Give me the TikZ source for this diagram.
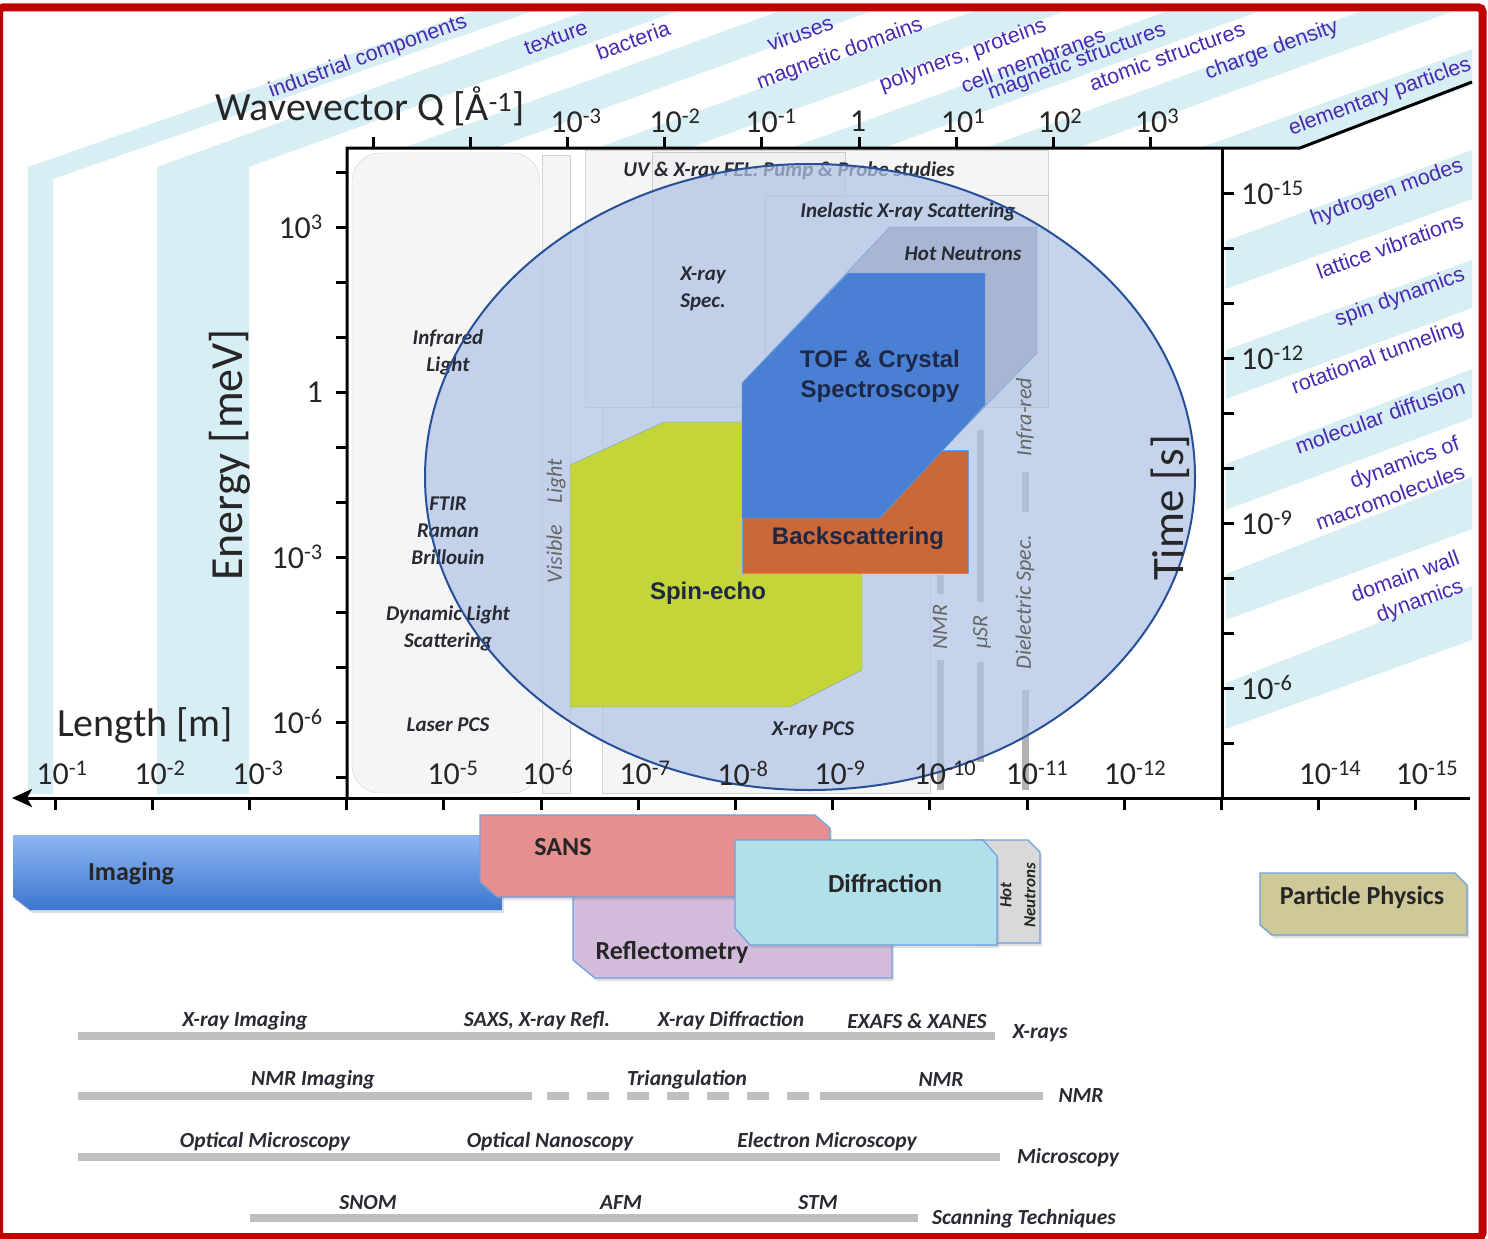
\documentclass[tikz,border=0pt]{standalone}
\usepackage{fontspec}
\setmainfont{Carlito}
\newfontfamily\arialf{Liberation Sans}
\usetikzlibrary{arrows.meta,shadows}
\definecolor{bandblue}{RGB}{214,238,244}
\definecolor{purp}{RGB}{74,42,178}
\definecolor{redb}{RGB}{192,0,0}
\definecolor{ellfill}{RGB}{176,196,230}
\definecolor{elldraw}{RGB}{40,80,150}
\definecolor{greenbox}{RGB}{196,213,58}
\definecolor{tofblue}{RGB}{74,128,212}
\definecolor{orangebox}{RGB}{203,104,56}
\definecolor{hotbox}{RGB}{168,182,212}
\definecolor{navytext}{RGB}{30,40,70}
\definecolor{sansfill}{RGB}{229,143,143}
\definecolor{reflfill}{RGB}{211,187,220}
\definecolor{difffill}{RGB}{178,224,234}
\definecolor{hotgray}{RGB}{217,217,217}
\definecolor{partfill}{RGB}{207,200,152}
\definecolor{barg}{RGB}{191,191,191}
\definecolor{imgtop}{RGB}{141,182,244}
\definecolor{imgbot}{RGB}{60,118,206}
\definecolor{boxedge}{RGB}{110,160,220}
\definecolor{labdark}{RGB}{40,42,52}
\newcommand{\tpow}[1]{10\textsuperscript{#1}}
\tikzset{
  axlab/.style={font=\fontsize{40}{44}\selectfont, text=black!85, inner sep=0},
  ticklab/.style={font=\fontsize{32}{34}\selectfont, text=black!85, inner sep=0},
  purlab/.style={font=\arialf\fontsize{21.5}{23}\selectfont, text=purp, rotate=20, inner sep=0, align=center},
  itlab/.style={font=\bfseries\itshape\fontsize{21}{27}\selectfont, text=labdark, align=center, inner sep=0},
  rowlab/.style={font=\bfseries\itshape\fontsize{21.5}{25}\selectfont, text=labdark, inner sep=0},
  thinit/.style={font=\itshape\fontsize{22}{26}\selectfont, text=black!60, inner sep=0},
  boldlab/.style={font=\arialf\bfseries\fontsize{24}{30}\selectfont, text=navytext, align=center, inner sep=0},
  boxlab/.style={font=\bfseries\fontsize{26}{28}\selectfont, text=black!85, inner sep=0, align=center},
  axisline/.style={line width=3, black},
  tickmark/.style={line width=3, black},
  graybox/.style={draw=gray!35, fill=gray!8},
  techbar/.style={barg, line width=8},
  pbox/.style={draw=boxedge, line width=1.2, drop shadow={shadow xshift=2pt, shadow yshift=-3pt, opacity=0.25}},
}
\begin{document}
\begin{tikzpicture}[x=1pt,y=-1pt]
\useasboundingbox (0,0) rectangle (1488,1239);
\fill[white] (0,0) rectangle (1488,1239);
% ---------- light blue bands ----------
\fill[bandblue] (28,794) -- (28,167) -- (471,12) -- (530,12) -- (53,179) -- (53,794) -- cycle;
\fill[bandblue] (157,794) -- (157,167) -- (583,12) -- (675,12) -- (249,167) -- (249,794) -- cycle;
\begin{scope}
  \clip (300,148) -- (1300,148) -- (1472,85) -- (1472,12) -- (300,12) -- cycle;
  \foreach \a/\b in {403/495, 597/689, 791/883, 985/1077, 1200/1300}
    \fill[bandblue] (\a,148) -- ({\a+374},12) -- ({\b+374},12) -- (\b,148) -- cycle;
\end{scope}
\foreach \la/\lb/\ra/\rb in {241/289/150/199, 350/399/260/308, 464/510/369/418, 574/620/477/529, 683/729/586/640}
  \fill[bandblue] (1226,\la) -- (1472,\ra) -- (1472,\rb) -- (1226,\lb) -- cycle;
% ---------- gray technique regions ----------
\draw[graybox, rounded corners=28] (352,153) rectangle (540,793);
\draw[graybox] (542,155) rectangle (570,793);
\draw[graybox] (585,150) rectangle (1048,407);
\draw[draw=gray!40, fill=gray!14, fill opacity=0.6] (652,152) rectangle (845,407);
\draw[draw=gray!40, fill=gray!14, fill opacity=0.6] (765,195) rectangle (1048,407);
\draw[graybox] (602,407) rectangle (930,793);
\node[itlab] (fel) at (789,171) {UV \& X-ray FEL: Pump \& Probe studies};
\draw[techbar, gray!60, line width=7] (940,575) -- (940,594) (940,660) -- (940,790);
\draw[techbar, gray!60, line width=7] (980,430) -- (980,602) (980,662) -- (980,762);
\draw[techbar, gray!60, line width=7] (1025,347) -- (1025,362) (1025,472) -- (1025,512) (1025,690) -- (1025,790);
% ---------- ellipse fill ----------
\fill[ellfill, fill opacity=0.72] (810,477) ellipse [x radius=385, y radius=313];
% labels of the gray regions
\node[itlab] (ir) at (448,352) {Infrared\\Light};
\node[itlab] (ftir) at (448,531) {FTIR\\Raman\\Brillouin};
\node[itlab] (dls) at (448,628) {Dynamic Light\\Scattering};
\node[itlab] (lpcs) at (448,725) {Laser PCS};
\node[thinit, rotate=90] (vis) at (556,521) {Visible\quad Light};
\node[itlab] (ixs) at (908,212) {Inelastic X-ray Scattering};
\node[itlab] (xspec) at (703,289) {X-ray\\Spec.};
\node[itlab] (xpcs) at (813,730) {X-ray PCS};
\node[thinit, rotate=90] (nmrv) at (940,627) {NMR};
\node[thinit, rotate=90] (musr) at (982,632) {μSR};
\node[thinit, rotate=90] (diel) at (1025,602) {Dielectric Spec.};
\node[thinit, rotate=90] (infr) at (1025,417) {Infra-red};
% ---------- neutron techniques ----------
\draw[draw=boxedge, fill=hotbox] (742,383) -- (890,227) -- (1037,227) -- (1037,353) -- (935,458) -- (742,458) -- cycle;
\draw[draw=boxedge, fill=greenbox] (570,465) -- (664,422) -- (862,422) -- (862,670) -- (790,707) -- (570,707) -- cycle;
\draw[draw=boxedge, fill=orangebox] (742,450) -- (968,450) -- (968,573) -- (742,573) -- cycle;
\draw[draw=boxedge, fill=tofblue] (742,383) -- (848,273) -- (985,273) -- (985,405) -- (880,518) -- (742,518) -- cycle;
\draw[elldraw, line width=2] (810,477) ellipse [x radius=385, y radius=313];
\node[itlab] (hotn) at (963,254) {Hot Neutrons};
\node[boldlab] (tof) at (880,376) {TOF \& Crystal\\Spectroscopy};
\node[boldlab] (bsc) at (858,538) {Backscattering};
\node[boldlab] (spe) at (708,593) {Spin-echo};
% ---------- axes ----------
\draw[axisline] (347,798) -- (347,148) -- (1300,148) -- (1472,82);
\draw[axisline] (1222,148) -- (1222,798);
\draw[axisline, -{Stealth[length=20,width=18,inset=5]}] (1470,798) -- (12,798);
\foreach \i in {0,...,8} \draw[tickmark] ({373+97.2*\i},148) -- ++(0,-11);
\foreach \i in {0,...,11} \draw[tickmark] (347,{172+55*\i}) -- ++(-11,0);
\foreach \i in {0,...,10} \draw[tickmark] (1222,{193+55*\i}) -- ++(12,0);
\foreach \i in {0,...,14} \draw[tickmark] ({55+97.2*\i},798) -- ++(0,12);
% tick labels
\foreach \x/\t in {576/\tpow{-3}, 675/\tpow{-2}, 771/\tpow{-1}, 858/1, 963/\tpow{1}, 1060/\tpow{2}, 1157/\tpow{3}}
  \node[ticklab] at (\x,121) {\t};
\foreach \y/\t in {227/\tpow{3}, 392/1, 557/\tpow{-3}, 722/\tpow{-6}}
  \node[ticklab, anchor=east] at (323,\y) {\t};
\foreach \y/\t in {193/\tpow{-15}, 358/\tpow{-12}, 523/\tpow{-9}, 688/\tpow{-6}}
  \node[ticklab, anchor=west] at (1241,\y) {\t};
\foreach \x/\t in {62/\tpow{-1}, 160/\tpow{-2}, 258/\tpow{-3}, 453/\tpow{-5}, 548/\tpow{-6}, 645/\tpow{-7}, 743/\tpow{-8}, 840/\tpow{-9}, 945/\tpow{-10}, 1037/\tpow{-11}, 1135/\tpow{-12}, 1330/\tpow{-14}, 1427/\tpow{-15}}
  \node[ticklab] at (\x,773) {\t};
\node[axlab] (wq) at (370,106) {Wavevector Q [Å\textsuperscript{-1}]};
\node[axlab, rotate=90, font=\fontsize{46}{50}\selectfont] (en) at (230,455) {Energy [meV]};
\node[axlab] (len) at (145,725) {Length [m]};
\node[axlab, rotate=90, font=\fontsize{45}{50}\selectfont] (tm) at (1170,508) {Time [s]};
% ---------- purple labels ----------
\node[purlab] at (368,57) {industrial components};
\node[purlab] at (556,38) {texture};
\node[purlab] at (633,40) {bacteria};
\node[purlab] at (800,33) {viruses};
\node[purlab] at (840,54) {magnetic domains};
\node[purlab] at (963,56) {polymers, proteins};
\node[purlab] at (1033,60) {cell membranes};
\node[purlab] at (1077,62) {magnetic structures};
\node[purlab] at (1167,56) {atomic structures};
\node[purlab] at (1272,50) {charge density};
\node[purlab] at (1380,97) {elementary particles};
\node[purlab] at (1387,193) {hydrogen modes};
\node[purlab] at (1390,246) {lattice vibrations};
\node[purlab] at (1400,298) {spin dynamics};
\node[purlab] at (1378,358) {rotational tunneling};
\node[purlab] at (1380,417) {molecular diffusion};
\node[purlab] at (1405,464) {dynamics of};
\node[purlab] at (1390,497) {macromolecules};
\node[purlab] at (1405,576) {domain wall};
\node[purlab] at (1420,602) {dynamics};
% ---------- bottom probe boxes ----------
\shade[top color=imgtop, bottom color=imgbot, drop shadow={shadow xshift=2pt, shadow yshift=-3pt, opacity=0.25}] (13,835) -- (502,835) -- (502,910) -- (30,910) -- (13,897) -- cycle;
\draw[pbox, fill=reflfill] (573,880) -- (892,880) -- (892,978) -- (595,978) -- (573,960) -- cycle;
\draw[pbox, fill=sansfill] (480,815) -- (815,815) -- (830,828) -- (830,897) -- (497,897) -- (480,882) -- cycle;
\draw[pbox, fill=hotgray] (975,840) -- (1028,840) -- (1040,852) -- (1040,943) -- (975,943) -- cycle;
\draw[pbox, fill=difffill] (735,840) -- (983,840) -- (997,856) -- (997,945) -- (750,945) -- (735,928) -- cycle;
\draw[pbox, fill=partfill] (1260,873) -- (1455,873) -- (1467,885) -- (1467,935) -- (1272,935) -- (1260,925) -- cycle;
\node[boxlab] (img) at (131,874) {Imaging};
\node[boxlab] (sans) at (563,847) {SANS};
\node[boxlab] (refl) at (672,952) {Reflectometry};
\node[boxlab] (diff) at (885,883) {Diffraction};
\node[boxlab, rotate=90, font=\bfseries\itshape\fontsize{17}{24}\selectfont] (hotsm) at (1018,895) {Hot\\Neutrons};
\node[boxlab] (pp) at (1362,897) {Particle Physics};
% ---------- technique bars ----------
\draw[techbar] (78,1036) -- (995,1036);
\draw[techbar] (78,1096) -- (532,1096);
\foreach \s in {547,587,627,667,707,747,787} \draw[techbar] (\s,1096) -- ++(22,0);
\draw[techbar] (820,1096) -- (1043,1096);
\draw[techbar] (78,1157) -- (1000,1157);
\draw[techbar] (250,1218) -- (918,1218);
\node[rowlab] at (245,1021) {X-ray Imaging};
\node[rowlab] at (537,1021) {SAXS, X-ray Refl.};
\node[rowlab] at (731,1021) {X-ray Diffraction};
\node[rowlab] at (917,1021) {EXAFS \& XANES};
\node[rowlab] at (1040,1033) {X-rays};
\node[rowlab] at (313,1080) {NMR Imaging};
\node[rowlab] at (687,1080) {Triangulation};
\node[rowlab] at (941,1080) {NMR};
\node[rowlab] at (1081,1096) {NMR};
\node[rowlab] at (265,1142) {Optical Microscopy};
\node[rowlab] at (550,1142) {Optical Nanoscopy};
\node[rowlab] at (827,1142) {Electron Microscopy};
\node[rowlab] at (1068,1158) {Microscopy};
\node[rowlab] at (368,1203) {SNOM};
\node[rowlab] at (621,1203) {AFM};
\node[rowlab] at (818,1203) {STM};
\node[rowlab] at (1024,1219) {Scanning Techniques};
% ---------- red frame ----------
\draw[redb, line width=8, rounded corners=4] (-1,7.5) rectangle (1482.5,1237);
\end{tikzpicture}
\end{document}
